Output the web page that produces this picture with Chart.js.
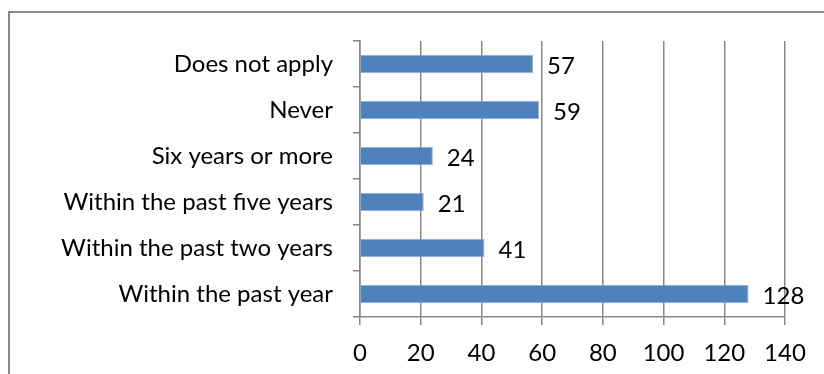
<!DOCTYPE html>
<html>
<head>
<meta charset="utf-8">
<script src="https://cdn.jsdelivr.net/npm/chart.js@4.4.0/dist/chart.umd.min.js"></script>
<style>
  html, body { margin:0; padding:0; background:#fff; overflow:hidden; }
  #wrap { position:relative; width:824px; height:374px; }
  #frame { position:absolute; left:8px; top:11px; width:900px; height:500px; border:2px solid #878787; box-sizing:border-box; }
  canvas { position:absolute; left:0; top:0; }
</style>
</head>
<body>
<div id="wrap">
  <div id="frame"></div>
  <canvas id="c" width="824" height="374"></canvas>
</div>
<script>
// data
const categories = ['Does not apply','Never','Six years or more','Within the past five years','Within the past two years','Within the past year'];
const counts     = [57, 59, 24, 21, 41, 128];
const xTicks     = [0, 20, 40, 60, 80, 100, 120, 140];

const FONT = { family:"Lato, 'Open Sans', sans-serif", size:24 };
const GRID = '#888888';

const valueLabels = {
  id:'valueLabels',
  afterDatasetsDraw(chart) {
    const ctx = chart.ctx;
    const meta = chart.getDatasetMeta(0);
    ctx.save();
    ctx.font = FONT.size + 'px ' + FONT.family;
    ctx.fillStyle = '#000';
    ctx.textAlign = 'left';
    ctx.textBaseline = 'middle';
    meta.data.forEach((bar, i) => {
      ctx.fillText(String(counts[i]), bar.x + 14, bar.y + 2);
    });
    ctx.restore();
  }
};

new Chart(document.getElementById('c'), {
  type:'bar',
  data:{ labels:categories, datasets:[{
    data:counts, backgroundColor:'#4f81bd', borderColor:'#8fb1dc', borderWidth:1,
    categoryPercentage:1, barPercentage:0.4
  }]},
  options:{
    indexAxis:'y', responsive:false, animation:false,
    layout:{ padding:{ left:0, right:39, top:41, bottom:0 } },
    plugins:{ legend:{ display:false }, tooltip:{ enabled:false } },
    scales:{
      x:{ min:0, max:140, afterBuildTicks:s=>{ s.ticks = xTicks.map(v=>({value:v})); },
        grid:{ color:GRID, lineWidth:1.5, tickLength:8 },
        border:{ color:GRID, width:1.5 },
        ticks:{ color:'#000', font:FONT, padding:14, maxRotation:0 },
        afterFit:s=>{ s.height = 57; } },
      y:{ offset:true,
        grid:{ color:GRID, lineWidth:1.5, tickLength:7, drawOnChartArea:false, offset:true },
        border:{ color:GRID, width:1.5 },
        ticks:{ color:'#000', font:FONT, padding:20, autoSkip:false },
        afterFit:s=>{ s.width = 360; } }
    }
  },
  plugins:[valueLabels]
});
</script>
</body>
</html>
